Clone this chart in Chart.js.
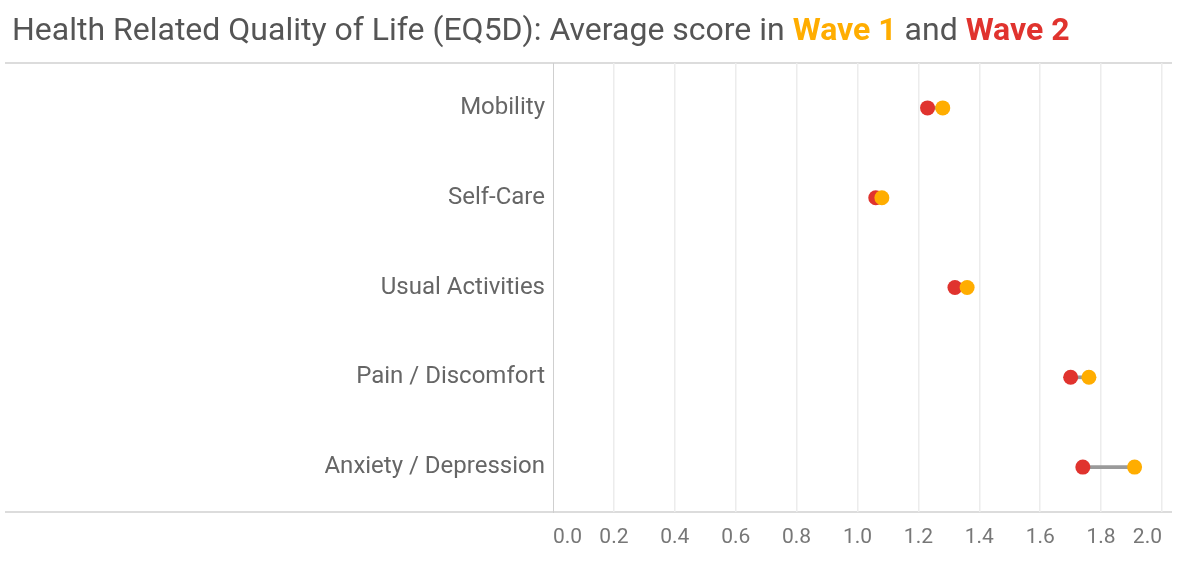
<!DOCTYPE html>
<html>
<head>
<meta charset="utf-8">
<script src="https://cdn.jsdelivr.net/npm/chart.js@4"></script>
<style>
  body { margin: 0; background: #fff; font-family: Roboto, sans-serif; }
  #title { position: absolute; left: 12px; top: 13px; font-size: 32px; line-height: 32px; color: #555; white-space: nowrap; }
  #title .w1 { color: #FFAD00; font-weight: bold; }
  #title .w2 { color: #E0332E; font-weight: bold; }
  #wrap { position: absolute; left: 0; top: 0; width: 1194px; height: 575px; }
</style>
</head>
<body>
<div id="wrap"><canvas id="eqChart"></canvas></div>
<div id="title">Health Related Quality of Life (EQ5D): Average score in <span class="w1">Wave 1</span> and <span class="w2">Wave 2</span></div>
<script>
const C_WAVE1 = '#FFAD00';
const C_WAVE2 = '#E0332E';
const C_LINK = '#9a9a9a';

const dimensions = ['Mobility', 'Self-Care', 'Usual Activities', 'Pain / Discomfort', 'Anxiety / Depression'];
const wave1 = [1.28, 1.08, 1.36, 1.76, 1.91];
const wave2 = [1.23, 1.06, 1.32, 1.70, 1.74];
const xTicks = [0.0, 0.2, 0.4, 0.6, 0.8, 1.0, 1.2, 1.4, 1.6, 1.8, 2.0];

// connector between the two waves
const links = dimensions.map((d, i) => [Math.min(wave1[i], wave2[i]), Math.max(wave1[i], wave2[i])]);

// full-width rules above and below the plot
const rulesPlugin = {
    id: 'rules',
    beforeDraw(chart) {
        const ctx = chart.ctx;
        const a = chart.chartArea;
        ctx.save();
        ctx.strokeStyle = '#dcdcdc';
        ctx.lineWidth = 2;
        ctx.beginPath();
        ctx.moveTo(5, a.top);
        ctx.lineTo(a.right + 10, a.top);
        ctx.moveTo(5, a.bottom);
        ctx.lineTo(a.right + 10, a.bottom);
        ctx.stroke();
        ctx.restore();
    }
};

const eqChart = new Chart(
    document.getElementById('eqChart'),
    {
        type: 'bar',
        data: {
            labels: dimensions,
            datasets: [
                {
                    type: 'line',
                    label: 'Wave 1',
                    data: wave1,
                    showLine: false,
                    pointRadius: 7.5,
                    pointHoverRadius: 7.5,
                    pointBorderWidth: 0,
                    backgroundColor: C_WAVE1,
                    borderColor: C_WAVE1,
                    order: 0,
                },
                {
                    type: 'line',
                    label: 'Wave 2',
                    data: wave2,
                    showLine: false,
                    pointRadius: 7.5,
                    pointHoverRadius: 7.5,
                    pointBorderWidth: 0,
                    backgroundColor: C_WAVE2,
                    borderColor: C_WAVE2,
                    order: 1,
                },
                {
                    label: 'link',
                    data: links,
                    backgroundColor: C_LINK,
                    barThickness: 3,
                    order: 2,
                }
            ]
        },
        options: {
            indexAxis: 'y',
            responsive: true,
            maintainAspectRatio: false,
            animation: false,
            layout: { padding: { top: 63, left: 0, right: 32, bottom: 0 } },
            plugins: {
                legend: { display: false },
                tooltip: { enabled: false }
            },
            scales: {
                x: {
                    type: 'linear',
                    min: 0,
                    max: 2,
                    afterBuildTicks: (scale) => {
                        scale.ticks = xTicks.map(v => ({ value: v }));
                    },
                    afterFit: (scale) => { scale.height = 63; },
                    ticks: {
                        align: 'inner',
                        padding: 13,
                        color: '#777',
                        font: { family: 'Roboto', size: 21 },
                        callback: (v) => Number(v).toFixed(1)
                    },
                    grid: {
                        color: (c) => c.tick && c.tick.value === 0 ? 'rgba(0,0,0,0)' : '#ececec',
                        lineWidth: 1.5,
                        drawTicks: false
                    },
                    border: { display: false }
                },
                y: {
                    afterFit: (scale) => { scale.width = 553; },
                    ticks: {
                        padding: 8,
                        color: '#666',
                        font: { family: 'Roboto', size: 24 }
                    },
                    grid: { display: false, drawTicks: false },
                    border: { display: true, color: '#cfcfcf', width: 1, dash: [1, 2] }
                }
            }
        },
        plugins: [rulesPlugin]
    });
</script>
</body>
</html>
